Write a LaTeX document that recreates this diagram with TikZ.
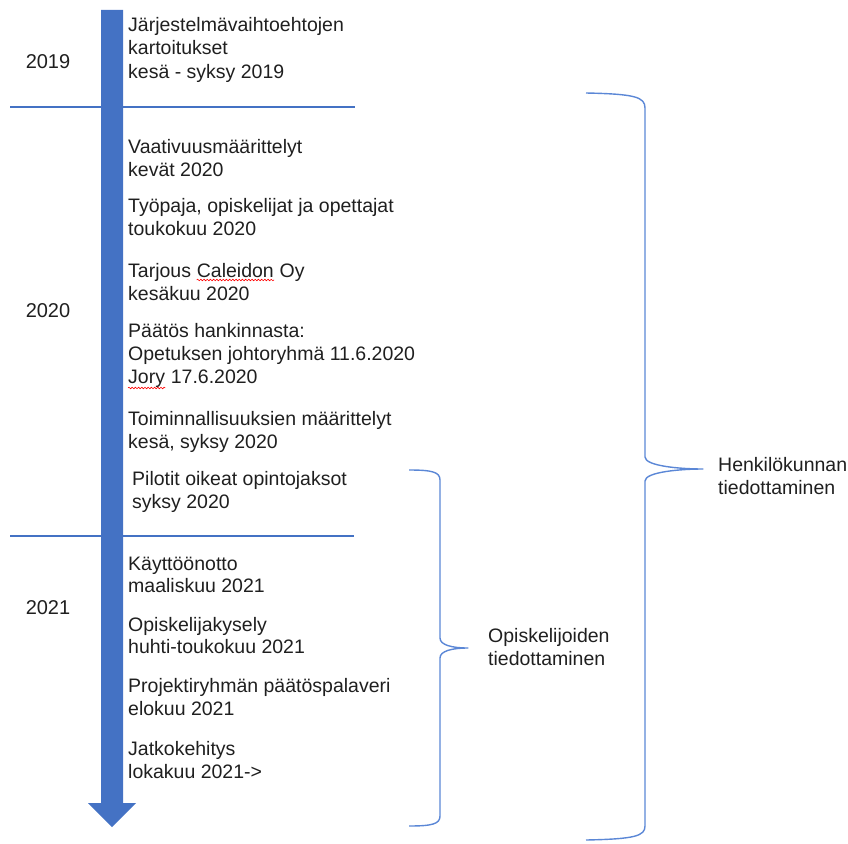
\documentclass[tikz,border=0pt]{standalone}
\usepackage{fontspec}
\setmainfont{Liberation Sans}
\usetikzlibrary{decorations.pathmorphing}
\definecolor{timeblue}{HTML}{4472C4}
\definecolor{braceblue}{HTML}{5B87D6}
\definecolor{inkgray}{HTML}{1F1F1F}
\tikzset{
  txt/.style={inner sep=0pt, anchor=base west, text=inkgray,
    font=\fontsize{19.5}{23}\selectfont},
  yeartxt/.style={inner sep=0pt, anchor=base, text=inkgray,
    font=\fontsize{20}{23}\selectfont},
  divider/.style={draw=timeblue, line width=1.2pt},
  bracket/.style={draw=braceblue, line width=1.4pt, line join=round},
  spell/.style={draw=red, line width=0.6pt, decorate,
    decoration={snake, amplitude=0.8pt, segment length=3.2pt}}
}
\begin{document}
\begin{tikzpicture}[x=1pt,y=-1pt]
\useasboundingbox (0,0) rectangle (848,843);

% year dividers
\coordinate (d1a) at (10,107);  \coordinate (d1b) at (355,107);
\coordinate (d2a) at (10,536);  \coordinate (d2b) at (354,536);
\draw[divider] (d1a) -- (d1b);
\draw[divider] (d2a) -- (d2b);

% timeline arrow
\fill[timeblue] (101,10) -- (123,10) -- (123,803) -- (136,803)
  -- (112,827) -- (88,803) -- (101,803) -- cycle;

% years
\node[yeartxt] (y2019) at (48,68)  {2019};
\node[yeartxt] (y2020) at (48,317) {2020};
\node[yeartxt] (y2021) at (48,614) {2021};

% events
\foreach \n/\y/\t in {
  a1/32/{Järjestelmävaihtoehtojen},
  a2/55/{kartoitukset},
  a3/78/{kesä - syksy 2019},
  b1/153/{Vaativuusmäärittelyt},
  b2/176/{kevät 2020},
  c1/212/{Työpaja, opiskelijat ja opettajat},
  c2/235/{toukokuu 2020},
  d2/300/{kesäkuu 2020},
  e1/337/{Päätös hankinnasta:},
  e2/360/{Opetuksen johtoryhmä 11.6.2020},
  f1/425/{Toiminnallisuuksien määrittelyt},
  f2/448/{kesä, syksy 2020},
  h1/570/{Käyttöönotto},
  h2/592/{maaliskuu 2021},
  i1/631/{Opiskelijakysely},
  i2/653/{huhti-toukokuu 2021},
  j1/692/{Projektiryhmän päätöspalaveri},
  j2/715/{elokuu 2021},
  k1/755/{Jatkokehitys},
  k2/778/{lokakuu 2021->}}
  \node[txt] (\n) at (128,\y) {\t};

\node[txt] (g1) at (132,485) {Pilotit oikeat opintojaksot};
\node[txt] (g2) at (132,508) {syksy 2020};

% lines carrying spell-check marks
\node[txt] (d1) at (128,277) {Tarjous};
\node[txt] (cal) at ([xshift=5.4pt]d1.base east) {Caleidon};
\node[txt] (oy) at ([xshift=5.4pt]cal.base east) {Oy};
\node[txt] (jory) at (128,383) {Jory};
\node[txt] (jd) at ([xshift=5.4pt]jory.base east) {17.6.2020};
\draw[spell] ([yshift=-3pt]cal.base west) -- ([yshift=-3pt]cal.base east);
\draw[spell] ([yshift=-5pt]jory.base west) -- ([yshift=-5pt]jory.base east);

% staff brace
\coordinate (sbt) at (586,93);
\coordinate (sbtip) at (703,469);
\coordinate (sbb) at (586,840);
\draw[bracket]
  (sbt) .. controls (635,94) and (645,97) .. (645,108)
  -- (645,457) .. controls (645,466) and (680,469) .. (sbtip)
  .. controls (680,469) and (645,472) .. (645,481)
  -- (645,826) .. controls (645,836) and (635,839) .. (sbb);
\node[txt] (st1) at (718,471) {Henkilökunnan};
\node[txt] (st2) at (718,494) {tiedottaminen};

% student brace
\coordinate (pbt) at (409,470);
\coordinate (pbtip) at (468,648);
\coordinate (pbb) at (409,826);
\draw[bracket]
  (pbt) .. controls (432,470) and (440,472) .. (440,480)
  -- (440,638) .. controls (440,645) and (452,648) .. (pbtip)
  .. controls (452,648) and (440,651) .. (440,658)
  -- (440,816) .. controls (440,824) and (432,826) .. (pbb);
\node[txt] (pt1) at (488,642) {Opiskelijoiden};
\node[txt] (pt2) at (488,665) {tiedottaminen};
\end{tikzpicture}
\end{document}
